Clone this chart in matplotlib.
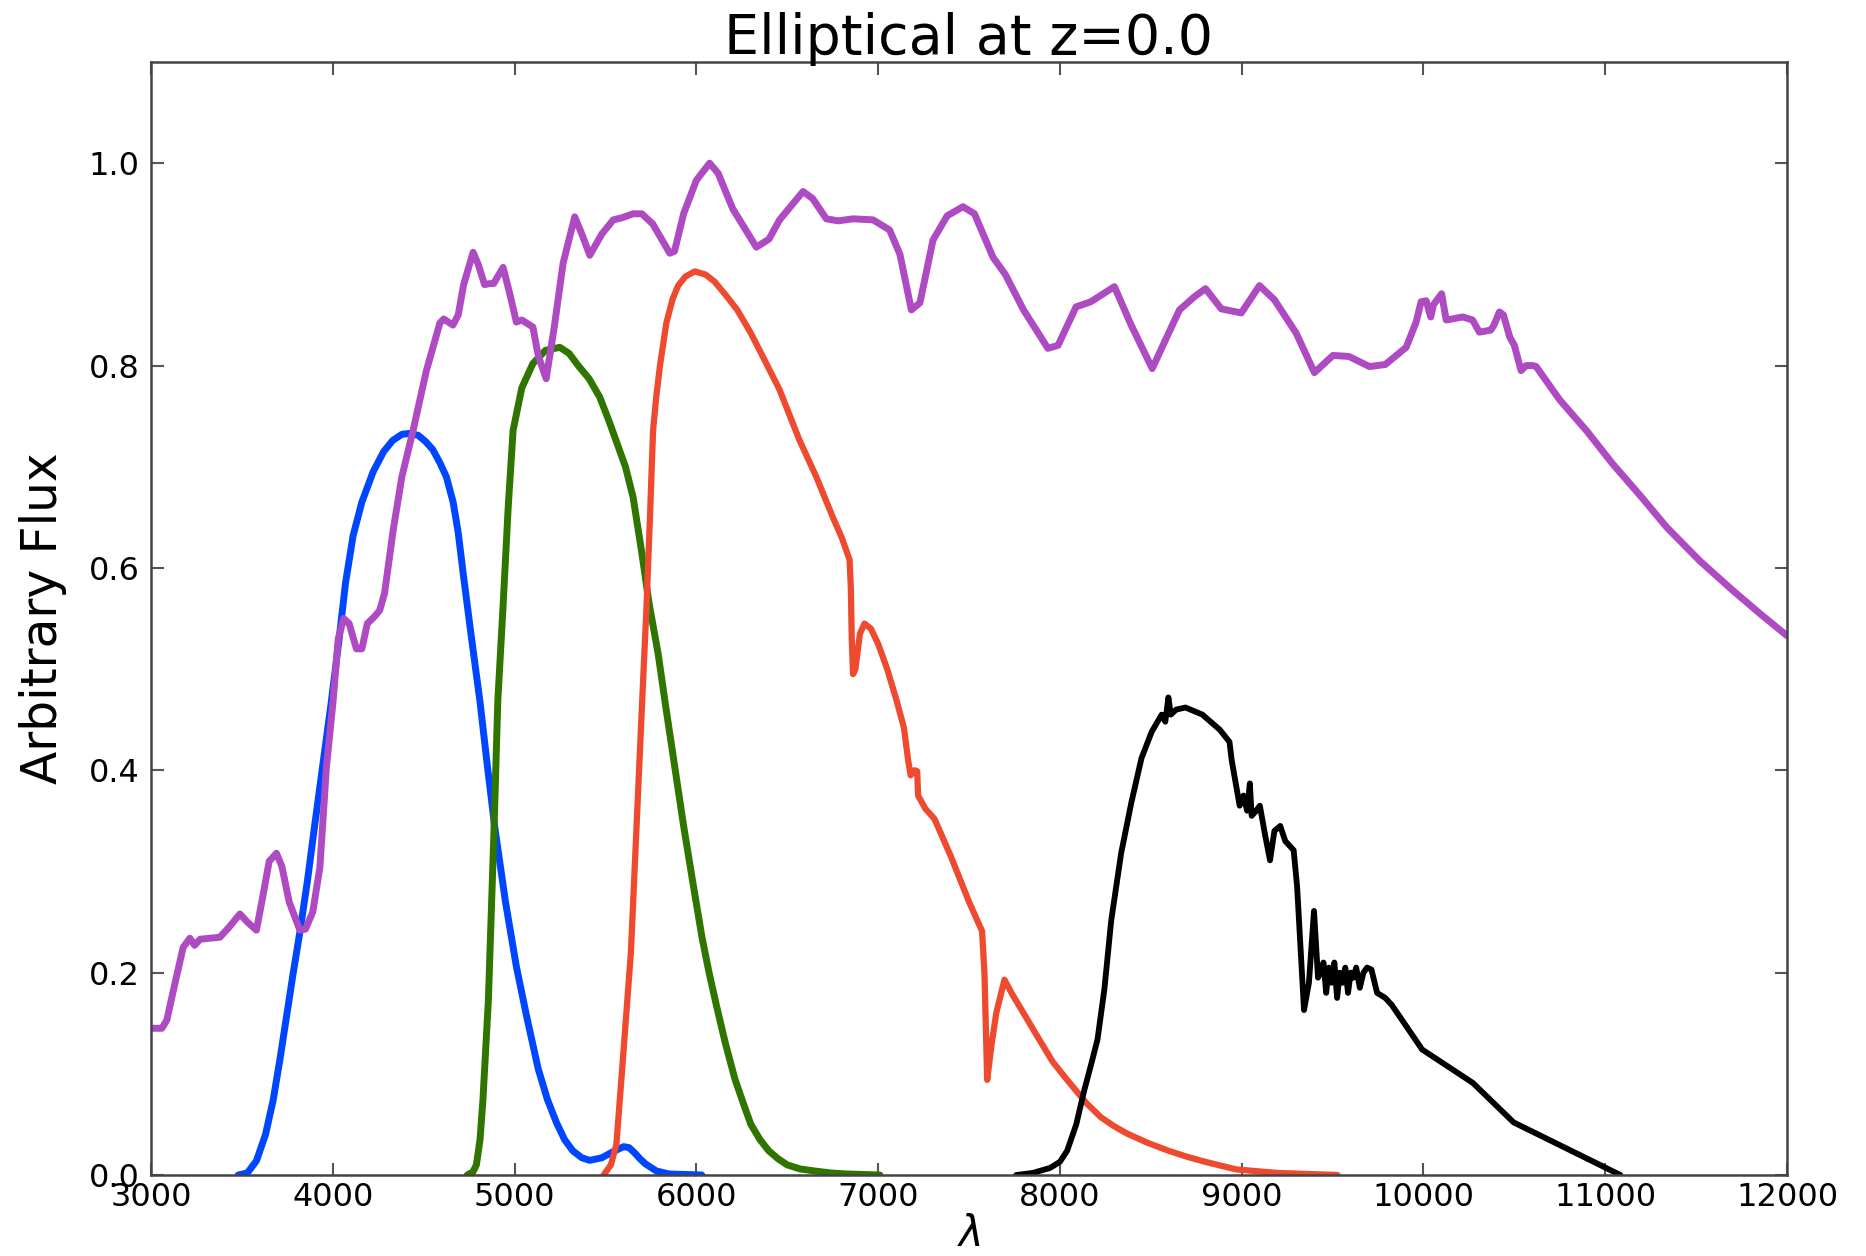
import numpy as np
import matplotlib
matplotlib.use("Agg")
import matplotlib.pyplot as plt

# galaxy spectrum (elliptical template)
sed_wave = [3000, 3060, 3087, 3120, 3177, 3214, 3240, 3270, 3379, 3430, 3489, 3530,
            3580, 3620, 3650, 3690, 3720, 3760, 3819, 3850, 3890, 3929, 3965, 4002,
            4030, 4060, 4090, 4130, 4160, 4190, 4230, 4258, 4285, 4332, 4380, 4442,
            4515, 4589, 4610, 4661, 4690, 4720, 4772, 4800, 4835, 4863, 4885, 4937,
            4975, 5010, 5040, 5101, 5130, 5174, 5220, 5267, 5331, 5370, 5414, 5480,
            5543, 5590, 5652, 5700, 5760, 5854, 5880, 5930, 6000, 6073, 6120, 6200,
            6330, 6400, 6458, 6587, 6640, 6715, 6780, 6862, 6972, 7063, 7120, 7183,
            7230, 7302, 7380, 7467, 7530, 7632, 7700, 7800, 7934, 7990, 8089, 8170,
            8300, 8392, 8508, 8580, 8658, 8740, 8801, 8888, 8998, 9098, 9180, 9300,
            9400, 9502, 9590, 9703, 9790, 9905, 9960, 9987, 10015, 10040, 10055, 10100,
            10125, 10217, 10270, 10308, 10370, 10388, 10418, 10440, 10475, 10500, 10537,
            10565, 10600, 10620, 10750, 10900, 11040, 11190, 11339, 11520, 11700, 11850, 12000]
sed_flux = [0.145, 0.145, 0.153, 0.18, 0.225, 0.234, 0.227, 0.233, 0.235, 0.245, 0.258, 0.25,
            0.242, 0.28, 0.31, 0.318, 0.305, 0.27, 0.242, 0.243, 0.26, 0.304, 0.403, 0.469,
            0.53, 0.55, 0.545, 0.52, 0.52, 0.545, 0.552, 0.558, 0.575, 0.637, 0.69, 0.736,
            0.795, 0.842, 0.846, 0.84, 0.85, 0.88, 0.912, 0.9, 0.88, 0.881, 0.881, 0.897,
            0.87, 0.843, 0.845, 0.838, 0.81, 0.787, 0.84, 0.901, 0.947, 0.93, 0.909, 0.93,
            0.944, 0.946, 0.95, 0.95, 0.94, 0.911, 0.913, 0.95, 0.983, 1.0, 0.99, 0.955,
            0.917, 0.925, 0.944, 0.972, 0.965, 0.945, 0.943, 0.945, 0.944, 0.934, 0.91, 0.855,
            0.862, 0.924, 0.948, 0.957, 0.95, 0.907, 0.89, 0.855, 0.817, 0.82, 0.858, 0.863,
            0.878, 0.84, 0.797, 0.825, 0.855, 0.868, 0.876, 0.856, 0.852, 0.879, 0.865, 0.832,
            0.793, 0.81, 0.809, 0.799, 0.801, 0.818, 0.843, 0.863, 0.864, 0.848, 0.86, 0.871,
            0.845, 0.848, 0.845, 0.833, 0.835, 0.84, 0.853, 0.85, 0.828, 0.82, 0.795,
            0.80, 0.80, 0.799, 0.766, 0.735, 0.703, 0.672, 0.64, 0.607, 0.578, 0.555, 0.533]

# filter curves
u_wave = [3480, 3530, 3580, 3630, 3672, 3710, 3745, 3780, 3818, 3860, 3900, 3945,
          3990, 4035, 4070, 4112, 4160, 4222, 4280, 4330, 4380, 4424, 4470, 4510,
          4550, 4589, 4625, 4662, 4690, 4717, 4760, 4809, 4850, 4891, 4950, 5010,
          5065, 5130, 5180, 5230, 5275, 5320, 5370, 5414, 5480, 5541, 5600, 5630,
          5660, 5690, 5720, 5780, 5850, 6030]
u_resp = [0.0, 0.002, 0.014, 0.04, 0.074, 0.115, 0.156, 0.197, 0.239, 0.29, 0.345, 0.405,
          0.465, 0.53, 0.585, 0.632, 0.665, 0.695, 0.715, 0.726, 0.732, 0.733, 0.731, 0.725,
          0.717, 0.704, 0.69, 0.665, 0.635, 0.595, 0.535, 0.469, 0.405, 0.344, 0.27, 0.206,
          0.158, 0.105, 0.075, 0.052, 0.035, 0.024, 0.017, 0.0145, 0.017, 0.023, 0.028, 0.027,
          0.022, 0.016, 0.011, 0.004, 0.001, 0.0]

g_wave = [4740, 4771, 4790, 4810, 4826, 4856, 4885, 4908, 4937, 4965, 4992, 5040,
          5101, 5170, 5249, 5300, 5350, 5410, 5468, 5520, 5560, 5610, 5652, 5700,
          5740, 5790, 5830, 5880, 5930, 5980, 6031, 6070, 6110, 6160, 6212, 6260,
          6300, 6350, 6398, 6450, 6500, 6570, 6650, 6740, 6830, 7010]
g_resp = [0.0, 0.003, 0.01, 0.035, 0.074, 0.173, 0.33, 0.469, 0.563, 0.66, 0.736, 0.778,
          0.802, 0.815, 0.818, 0.812, 0.80, 0.787, 0.769, 0.745, 0.725, 0.70, 0.67, 0.615,
          0.565, 0.515, 0.465, 0.405, 0.345, 0.29, 0.235, 0.2, 0.168, 0.13, 0.095, 0.07,
          0.05, 0.035, 0.024, 0.016, 0.01, 0.006, 0.004, 0.002, 0.001, 0.0]

r_wave = [5490, 5530, 5560, 5590, 5615, 5640, 5660, 5685, 5705, 5725, 5745, 5762,
          5780, 5800, 5835, 5870, 5900, 5940, 5991, 6050, 6100, 6160, 6225, 6300,
          6385, 6458, 6568, 6660, 6751, 6800, 6843, 6850, 6855, 6862, 6875,
          6900, 6925, 6960, 7000, 7050, 7100, 7142, 7165, 7179, 7200, 7215, 7220,
          7260, 7310, 7400, 7500, 7572, 7585, 7600, 7625, 7650, 7695, 7740, 7800, 7886,
          7960, 8040, 8146, 8226, 8300, 8369, 8480, 8597, 8700, 8800, 8970, 9200, 9527]
r_resp = [0.0, 0.01, 0.03, 0.10, 0.16, 0.22, 0.30, 0.40, 0.48, 0.558, 0.65, 0.736,
          0.77, 0.80, 0.842, 0.866, 0.879, 0.888, 0.893, 0.89, 0.883, 0.87, 0.855, 0.832,
          0.802, 0.776, 0.726, 0.69, 0.650, 0.63, 0.608, 0.58, 0.53, 0.495, 0.50,
          0.535, 0.545, 0.54, 0.525, 0.50, 0.47, 0.442, 0.41, 0.395, 0.40, 0.399, 0.375,
          0.362, 0.352, 0.315, 0.27, 0.241, 0.20, 0.094, 0.13, 0.16, 0.193, 0.178, 0.16, 0.134,
          0.112, 0.094, 0.071, 0.057, 0.048, 0.041, 0.032, 0.024, 0.018, 0.013, 0.0055, 0.002, 0.0]

i_wave = [7760, 7850, 7946, 8000, 8040, 8090, 8133, 8170, 8207, 8245, 8282, 8337,
          8393, 8449, 8505, 8560, 8580, 8597, 8610, 8640, 8691, 8784, 8880, 8933,
          8945, 8989, 9010, 9030, 9045, 9055, 9080, 9100, 9130, 9156, 9180, 9212,
          9240, 9286, 9305, 9343, 9370, 9398, 9420, 9435, 9450, 9465, 9480, 9495,
          9510, 9525, 9540, 9555, 9570, 9585, 9600, 9615, 9630, 9650, 9670, 9690,
          9714, 9745, 9790, 9826, 9993, 10272, 10496, 10790, 11083]
i_resp = [0.0, 0.002, 0.007, 0.013, 0.024, 0.05, 0.083, 0.108, 0.134, 0.184, 0.251, 0.318,
          0.368, 0.412, 0.438, 0.455, 0.448, 0.472, 0.455, 0.46, 0.462, 0.455, 0.44, 0.428,
          0.41, 0.365, 0.375, 0.36, 0.387, 0.355, 0.36, 0.365, 0.335, 0.311, 0.34, 0.345,
          0.33, 0.321, 0.285, 0.163, 0.19, 0.261, 0.195, 0.201, 0.21, 0.18, 0.205, 0.19,
          0.21, 0.175, 0.20, 0.19, 0.205, 0.18, 0.20, 0.195, 0.205, 0.185, 0.20, 0.205,
          0.203, 0.18, 0.175, 0.168, 0.124, 0.091, 0.052, 0.026, 0.0]

fig = plt.figure(figsize=(18.66, 12.56), dpi=100)
fig.patch.set_facecolor("white")
ax = fig.add_axes([151 / 1866, 1 - 1175 / 1256, 1636 / 1866, 1113 / 1256])

style = dict(solid_joinstyle="round", solid_capstyle="round")
ax.plot(u_wave, u_resp, color="#0046ff", lw=5, **style)
ax.plot(g_wave, g_resp, color="#2f7500", lw=5, **style)
ax.plot(r_wave, r_resp, color="#ee4a30", lw=4.5, **style)
ax.plot(i_wave, i_resp, color="black", lw=4.2, **style)
ax.plot(sed_wave, sed_flux, color="#ae4bc2", lw=5, **style)

ax.set_xlim(3000, 12000)
ax.set_ylim(0, 1.1)
ax.set_xticks(np.arange(3000, 12001, 1000))
ax.set_yticks([0.0, 0.2, 0.4, 0.6, 0.8, 1.0])
ax.set_yticklabels(["0.0", "0.2", "0.4", "0.6", "0.8", "1.0"])

ax.tick_params(direction="in", top=True, right=True, length=9, width=1.5,
               color="#555555", labelsize=23)
ax.tick_params(axis="x", pad=5)
ax.tick_params(axis="y", pad=8)
for sp in ax.spines.values():
    sp.set_color("#444444")
    sp.set_linewidth(1.8)

ax.set_title("Elliptical at z=0.0", fontsize=40, pad=6)
ax.set_ylabel("Arbitrary Flux", fontsize=35, labelpad=16)
ax.set_xlabel(r"$\lambda$", fontsize=30, labelpad=0)

fig.savefig("out.png", dpi=100, facecolor="white")
